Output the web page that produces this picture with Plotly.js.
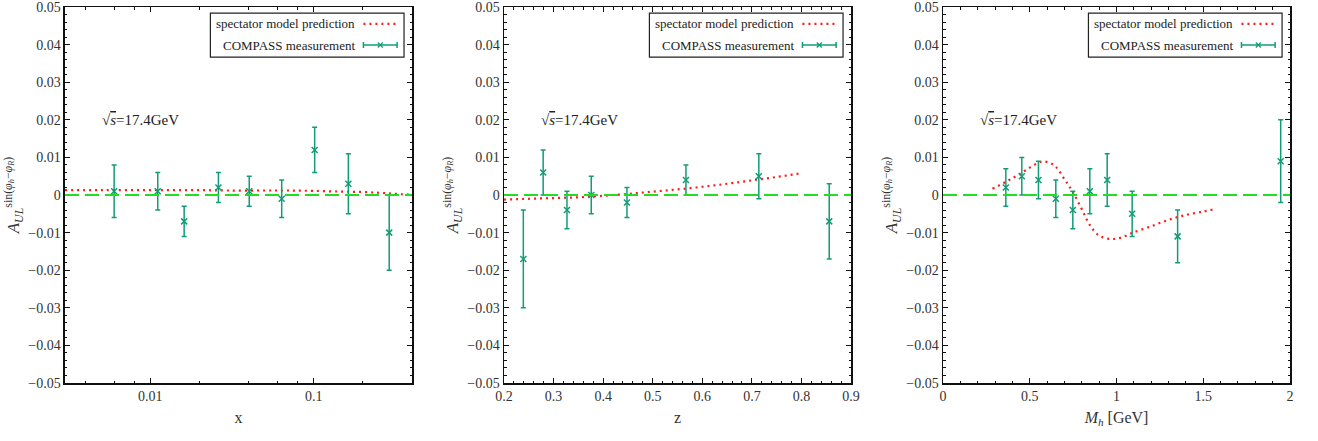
<!DOCTYPE html>
<html><head><meta charset="utf-8">
<script src="https://cdn.plot.ly/plotly-3.0.1.min.js"></script>
<style>html,body{margin:0;padding:0;background:#fff}#chart{width:1318px;height:441px}</style>
</head><body><div id="chart"></div>
<script>
// ---------- Panel 1: asymmetry vs x ----------
const xBins   = [0.0060, 0.0111, 0.0161, 0.0261, 0.0403, 0.0637, 0.1014, 0.163, 0.290];
const xAsym   = [0.001, 0.001, -0.007, 0.002, 0.001, -0.001, 0.012, 0.003, -0.010];
const xErr    = [0.007, 0.005, 0.004, 0.004, 0.004, 0.005, 0.006, 0.008, 0.010];
const xModelX = [0.003, 0.005, 0.01, 0.02, 0.03, 0.05, 0.07, 0.1, 0.15, 0.2, 0.25, 0.3, 0.35, 0.4];
const xModelY = [0.0013, 0.0013, 0.0013, 0.0013, 0.0012, 0.0012, 0.0012, 0.0011, 0.0009, 0.0008, 0.0006, 0.0004, 0.0002, 0.0001];

// ---------- Panel 2: asymmetry vs z ----------
const zBins   = [0.239, 0.279, 0.327, 0.376, 0.448, 0.567, 0.714, 0.856];
const zAsym   = [-0.017, 0.006, -0.004, 0.000, -0.002, 0.004, 0.005, -0.007];
const zErr    = [0.013, 0.006, 0.005, 0.005, 0.004, 0.004, 0.006, 0.010];
const zModelX = [0.2, 0.25, 0.3, 0.35, 0.4, 0.45, 0.5, 0.55, 0.6, 0.65, 0.7, 0.75, 0.8];
const zModelY = [-0.0012, -0.0010, -0.0008, -0.0006, -0.0002, 0.0003, 0.0009, 0.0015, 0.0022, 0.0030, 0.0039, 0.0048, 0.0058];

// ---------- Panel 3: asymmetry vs Mh ----------
const mBins   = [0.362, 0.454, 0.550, 0.650, 0.748, 0.846, 0.946, 1.090, 1.352, 1.946];
const mAsym   = [0.002, 0.005, 0.004, -0.001, -0.004, 0.001, 0.004, -0.005, -0.011, 0.009];
const mErr    = [0.005, 0.005, 0.005, 0.005, 0.005, 0.006, 0.007, 0.006, 0.007, 0.011];
const mModelX = [0.285, 0.35, 0.40, 0.45, 0.50, 0.55, 0.58, 0.62, 0.65, 0.70, 0.75, 0.80, 0.85, 0.90, 0.95, 0.98, 1.02, 1.06, 1.10, 1.20, 1.30, 1.40, 1.50, 1.56];
const mModelY = [0.0017, 0.0032, 0.0045, 0.0058, 0.0073, 0.0086, 0.0089, 0.0085, 0.0075, 0.0042, 0.0006, -0.0038, -0.0083, -0.0108, -0.0116, -0.0117, -0.0114, -0.0107, -0.0099, -0.0083, -0.0066, -0.0053, -0.0044, -0.0038];

// tick / label text
const yTickVals = [-0.05, -0.04, -0.03, -0.02, -0.01, 0, 0.01, 0.02, 0.03, 0.04, 0.05];
const yTickText = ['−0.05', '−0.04', '−0.03', '−0.02', '−0.01', '0', '0.01', '0.02', '0.03', '0.04', '0.05'];
const yTitle = "<i>A</i><sub><i>UL</i></sub><sup>sin(<i>φ</i><sub><i>h</i></sub>−<i>φ</i><sub><i>R</i></sub>)</sup>";
const xTitles = ["x", "z", "<i>M</i><sub><i>h</i></sub> [GeV]"];
const energyLabel = "√<span style='text-decoration:overline'><i>s</i></span>=17.4GeV";
const legendLabels = ["spectator model prediction", "COMPASS measurement"];
const zeroLevel = 0;

const teal = '#129c76';
const red = '#ff1a1a';
const green = '#22dd22';
const font = '"Liberation Serif", "Times New Roman", serif';

const panels = [
  {sx: '', bx: xBins, by: xAsym, be: xErr, mx: xModelX, my: xModelY},
  {sx: '2', bx: zBins, by: zAsym, be: zErr, mx: zModelX, my: zModelY},
  {sx: '3', bx: mBins, by: mAsym, be: mErr, mx: mModelX, my: mModelY},
];

const traces = [];
panels.forEach(p => {
  traces.push({
    type: 'scatter', mode: 'lines', x: p.mx, y: p.my,
    xaxis: 'x' + p.sx, yaxis: 'y' + p.sx, showlegend: false,
    line: {color: red, width: 2.2, dash: '2px,4px', shape: 'spline'},
    name: legendLabels[0], hoverinfo: 'skip'
  });
  traces.push({
    type: 'scatter', mode: 'markers', x: p.bx, y: p.by,
    xaxis: 'x' + p.sx, yaxis: 'y' + p.sx, showlegend: false,
    marker: {symbol: 'x-thin', size: 6, color: teal, line: {width: 1.5, color: teal}},
    error_y: {type: 'data', array: p.be, visible: true, color: teal, thickness: 1.5, width: 2.5},
    name: legendLabels[1]
  });
});

const doms = [[0.0493, 0.3126], [0.3824, 0.6457], [0.7155, 0.9788]];
const yDom = [0.1315, 0.984];

const baseY = {
  range: [-0.05, 0.05], tickmode: 'array', tickvals: yTickVals, ticktext: yTickText,
  ticks: 'inside', ticklen: 5, tickwidth: 1, ticklabeloverflow: 'allow',
  tickcolor: '#111', showline: true, linecolor: '#111', linewidth: 1.5, mirror: 'allticks',
  showgrid: false, zeroline: false, tickfont: {family: font, size: 14, color: '#333'},
  minor: {ticks: 'inside', dtick: 0.002, tick0: 0, ticklen: 2.5, tickcolor: '#111', showgrid: false},
  title: {text: yTitle, font: {family: font, size: 17, color: '#333'}, standoff: 4},
  domain: yDom, automargin: false
};
const baseX = {
  ticks: 'inside', ticklen: 5, tickwidth: 1, tickcolor: '#111', showline: true, linecolor: '#111',
  linewidth: 1.5, mirror: 'allticks', showgrid: false, zeroline: false, ticklabeloverflow: 'allow',
  tickfont: {family: font, size: 14, color: '#333'}, automargin: false
};

const layout = {
  width: 1318, height: 441, margin: {l: 0, r: 0, t: 0, b: 0},
  paper_bgcolor: '#fff', plot_bgcolor: '#fff', showlegend: false,
  font: {family: font, color: '#333'},
  xaxis: Object.assign({}, baseX, {
    type: 'log', range: [Math.log10(0.003), Math.log10(0.4)], dtick: 1, tick0: 0,
    minor: {ticks: 'inside', ticklen: 2.5, tickcolor: '#111', tickmode: 'array',
            tickvals: [0.004, 0.006, 0.008, 0.02, 0.04, 0.06, 0.08, 0.2, 0.4]},
    domain: doms[0], anchor: 'y',
    title: {text: xTitles[0], font: {family: font, size: 16, color: '#333'}, standoff: 8}
  }),
  xaxis2: Object.assign({}, baseX, {
    range: [0.2, 0.9], dtick: 0.1, tick0: 0,
    minor: {ticks: 'inside', ticklen: 2.5, tickcolor: '#111', dtick: 0.02},
    domain: doms[1], anchor: 'y2',
    title: {text: xTitles[1], font: {family: font, size: 16, color: '#333'}, standoff: 8}
  }),
  xaxis3: Object.assign({}, baseX, {
    range: [0, 2], dtick: 0.5, tick0: 0,
    minor: {ticks: 'inside', ticklen: 2.5, tickcolor: '#111', dtick: 0.1},
    domain: doms[2], anchor: 'y3',
    title: {text: xTitles[2], font: {family: font, size: 16, color: '#333'}, standoff: 8}
  }),
  yaxis: Object.assign({}, baseY, {anchor: 'x'}),
  yaxis2: Object.assign({}, baseY, {anchor: 'x2'}),
  yaxis3: Object.assign({}, baseY, {anchor: 'x3'}),
  shapes: [], annotations: []
};

// zero reference line, energy label and hand-built legend for each panel
panels.forEach(p => {
  const xd = 'x' + p.sx + ' domain';
  const yd = 'y' + p.sx + ' domain';
  layout.shapes.push({type: 'line', xref: xd, yref: 'y' + p.sx, x0: 0, x1: 1, y0: zeroLevel, y1: zeroLevel,
    line: {color: green, width: 2, dash: '14px,6px'}, layer: 'above'});
  layout.annotations.push({xref: xd, yref: yd, x: 0.101, y: 0.699, xanchor: 'left', yanchor: 'middle',
    text: energyLabel, showarrow: false, font: {family: font, size: 15, color: '#222'}});
  // legend box
  layout.shapes.push({type: 'rect', xref: xd, yref: yd, x0: 0.419, x1: 0.977, y0: 0.867, y1: 0.984,
    line: {color: '#222', width: 1.2}, fillcolor: '#fff', layer: 'above'});
  layout.annotations.push({xref: xd, yref: yd, x: 0.842, y: 0.955, xanchor: 'right', yanchor: 'middle',
    text: legendLabels[0], showarrow: false, font: {family: font, size: 13, color: '#222'}});
  layout.annotations.push({xref: xd, yref: yd, x: 0.842, y: 0.899, xanchor: 'right', yanchor: 'middle',
    text: legendLabels[1], showarrow: false, font: {family: font, size: 13, color: '#222'}});
  layout.shapes.push({type: 'line', xref: xd, yref: yd, x0: 0.86, x1: 0.957, y0: 0.955, y1: 0.955,
    line: {color: red, width: 2.2, dash: '2px,4px'}, layer: 'above'});
  layout.shapes.push({type: 'line', xref: xd, yref: yd, x0: 0.86, x1: 0.957, y0: 0.899, y1: 0.899,
    line: {color: teal, width: 1.5}, layer: 'above'});
  [0.86, 0.957].forEach(cx => {
    layout.shapes.push({type: 'line', xref: xd, yref: yd, xsizemode: 'pixel', ysizemode: 'pixel',
      xanchor: cx, yanchor: 0.899, x0: 0, x1: 0, y0: -3, y1: 3, line: {color: teal, width: 1.5}, layer: 'above'});
  });
  [[-2.5, -2.5, 2.5, 2.5], [-2.5, 2.5, 2.5, -2.5]].forEach(c => {
    layout.shapes.push({type: 'line', xref: xd, yref: yd, xsizemode: 'pixel', ysizemode: 'pixel',
      xanchor: 0.9085, yanchor: 0.899, x0: c[0], y0: c[1], x1: c[2], y1: c[3], line: {color: teal, width: 1.3}, layer: 'above'});
  });
});

Plotly.newPlot('chart', traces, layout, {displayModeBar: false, staticPlot: true});
</script>
</body></html>
